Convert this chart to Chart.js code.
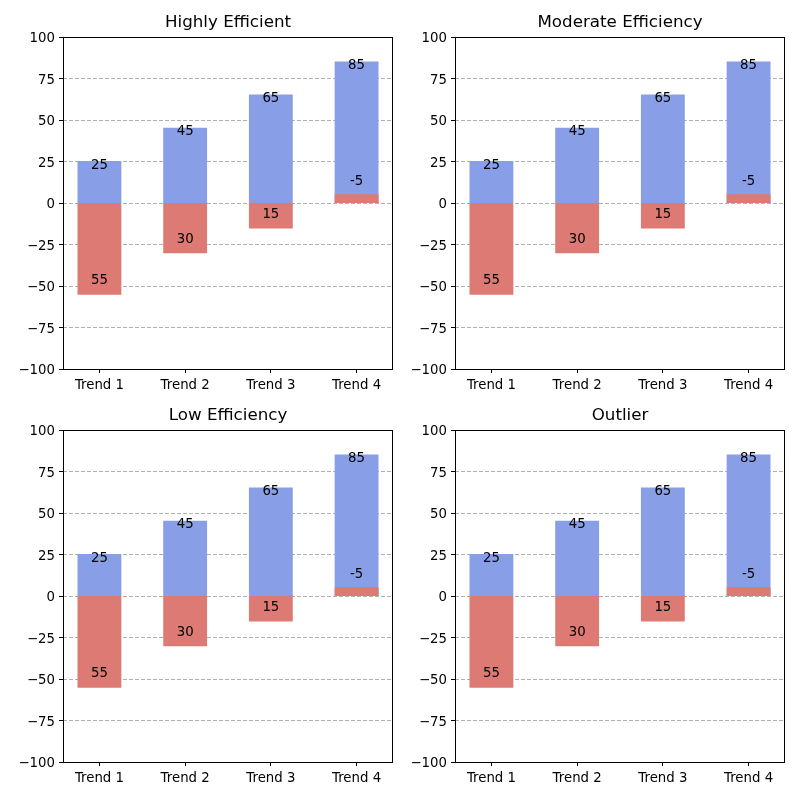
<!DOCTYPE html>
<html>
<head>
<meta charset="utf-8">
<script src="https://cdn.jsdelivr.net/npm/chart.js@4.4.0/dist/chart.umd.min.js"></script>
<style>
  html, body { margin: 0; padding: 0; background: #ffffff; }
  #wrap { position: relative; width: 800px; height: 800px; }
  .cell { position: absolute; width: 400px; height: 400px; }
</style>
</head>
<body>
<div id="wrap">
  <div class="cell" style="left:0px;top:0px;"><canvas id="c0"></canvas></div>
  <div class="cell" style="left:392px;top:0px;"><canvas id="c1"></canvas></div>
  <div class="cell" style="left:0px;top:393px;"><canvas id="c2"></canvas></div>
  <div class="cell" style="left:392px;top:393px;"><canvas id="c3"></canvas></div>
</div>
<script>
const titles = ["Highly Efficient", "Moderate Efficiency", "Low Efficiency", "Outlier"];
const categories = ["Trend 1", "Trend 2", "Trend 3", "Trend 4"];
const positiveValues = [25, 45, 65, 85];
const negativeValues = [-55, -30, -15, 5];
const negativeLabels = ["55", "30", "15", "-5"];
const yTicks = [-100, -75, -50, -25, 0, 25, 50, 75, 100];

const BLUE = "#889ee6";
const RED = "#dd7a73";
const FONT = "'DejaVu Sans', sans-serif";

const overlayPlugin = {
  id: "overlay",
  afterDatasetsDraw(chart, args, opts) {
    const ctx = chart.ctx;
    const xs = chart.scales.x, ys = chart.scales.y;
    const area = chart.chartArea;
    ctx.save();
    ctx.fillStyle = "#000";
    ctx.font = "13.3px " + FONT;
    ctx.textAlign = "center";
    ctx.textBaseline = "middle";
    for (let i = 0; i < categories.length; i++) {
      const px = xs.getPixelForValue(i);
      ctx.fillText(String(positiveValues[i]), px, ys.getPixelForValue(positiveValues[i] - 2.2));
      ctx.fillText(negativeLabels[i], px, ys.getPixelForValue(negativeValues[i] + 8.2));
    }
    // frame
    ctx.strokeStyle = "#000";
    ctx.lineWidth = 1;
    ctx.strokeRect(Math.round(area.left) + 0.5, Math.round(area.top) + 0.5,
                   Math.round(area.right - area.left) - 1, Math.round(area.bottom - area.top));
    // title
    ctx.font = "16.7px " + FONT;
    ctx.textBaseline = "middle";
    ctx.fillText(opts.text, (area.left + area.right) / 2, area.top - 14);
    ctx.restore();
  }
};

function makeChart(id, title) {
  new Chart(document.getElementById(id), {
    type: "bar",
    data: {
      datasets: [
        {
          label: "negative",
          data: negativeValues.map((v, i) => ({ x: i, y: v })),
          backgroundColor: RED,
          order: 0,
          barPercentage: 0.5,
          categoryPercentage: 1.0,
          inflateAmount: 0.5
        },
        {
          label: "positive",
          data: positiveValues.map((v, i) => ({ x: i, y: v })),
          backgroundColor: BLUE,
          order: 1,
          barPercentage: 0.5,
          categoryPercentage: 1.0,
          inflateAmount: 0.5
        }
      ]
    },
    options: {
      responsive: false,
      animation: false,
      devicePixelRatio: 1,
      layout: { padding: { top: 37, right: 7, left: 0, bottom: 0 } },
      plugins: {
        legend: { display: false },
        tooltip: { enabled: false },
        title: { display: false },
        overlay: { text: title }
      },
      scales: {
        x: {
          type: "linear",
          stacked: true,
          offset: false,
          min: -0.425,
          max: 3.425,
          afterBuildTicks: (s) => { s.ticks = categories.map((c, i) => ({ value: i })); },
          afterFit: (s) => { s.height = 31; },
          ticks: {
            callback: (v) => categories[v],
            color: "#000",
            font: { family: FONT, size: 13.3 },
            padding: 5,
            maxRotation: 0,
            autoSkip: false
          },
          grid: {
            offset: false,
            drawOnChartArea: false,
            drawTicks: true,
            tickLength: 4,
            tickColor: "#000"
          },
          border: { display: false }
        },
        y: {
          type: "linear",
          stacked: false,
          min: -100,
          max: 100,
          afterBuildTicks: (s) => { s.ticks = yTicks.map(v => ({ value: v })); },
          afterFit: (s) => { s.width = 63; },
          ticks: {
            callback: (v) => String(v).replace("-", "\u2212"),
            color: "#000",
            font: { family: FONT, size: 13.3 },
            padding: 4,
            labelOffset: 2
          },
          grid: {
            color: "#b0b0b0",
            lineWidth: 1,
            borderDash: [4, 2],
            tickLength: 4,
            tickColor: "#000",
            tickBorderDash: [],
            tickWidth: 1
          },
          border: { display: false, dash: [4, 2] }
        }
      }
    },
    plugins: [overlayPlugin]
  });
}

titles.forEach((t, i) => {
  const c = document.getElementById("c" + i);
  c.width = 400; c.height = 400;
  makeChart("c" + i, t);
});
</script>
</body>
</html>
